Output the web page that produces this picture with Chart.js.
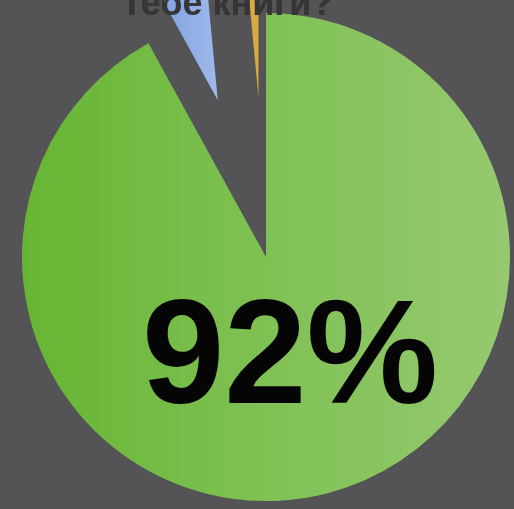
<!DOCTYPE html>
<html lang="ru">
  <head>
    <meta charset="utf-8" />
    <title>тебе книги?</title>
    <style>
      * {
        margin: 0;
        padding: 0;
      }
      html,
      body {
        width: 514px;
        height: 509px;
        overflow: hidden;
        background: #545356;
      }
      .chartBox {
        position: absolute;
        left: 0;
        top: -30px;
        width: 514px;
        height: 539px;
      }
    </style>
  </head>
  <body>
    <div class="chartBox">
      <canvas id="myChart" width="514" height="539"></canvas>
    </div>

    <script src="https://cdn.jsdelivr.net/npm/chart.js@4/dist/chart.umd.min.js"></script>

    <script>
      // data block
      const titleText = "тебе книги?";
      const categories = ["Да", "Нет", "Не знаю"];
      const values = [92, 6.5, 1.5];

      // green slice gets a soft left-to-right gradient like the original
      function sliceColor(context) {
        const { ctx, chartArea } = context.chart;
        if (!chartArea) return "#7dbf4e";
        if (context.dataIndex === 1) {
          const b = ctx.createLinearGradient(150, 0, 225, 0);
          b.addColorStop(0, "#7b9de0");
          b.addColorStop(1, "#a3bcec");
          return b;
        }
        if (context.dataIndex === 2) return "#d9a942";
        const g = ctx.createLinearGradient(20, 0, 510, 0);
        g.addColorStop(0, "#66b532");
        g.addColorStop(0.45, "#7dc051");
        g.addColorStop(1, "#96c970");
        return g;
      }

      // pull the small slices out along their own mid angle
      // (the built-in offset also trims the arc angle, which eats the thin slices)
      const explode = {
        id: "explode",
        afterUpdate(chart, args, options) {
          const arcs = chart.getDatasetMeta(0).data;
          options.distance.forEach((d, i) => {
            const a = arcs[i];
            if (!a || !d) return;
            const mid = (a.startAngle + a.endAngle) / 2;
            a.x += Math.cos(mid) * d;
            a.y += Math.sin(mid) * d;
          });
        },
      };

      // big percentage label on the green slice, title put back on top of the slices
      const bigLabel = {
        id: "bigLabel",
        afterDatasetsDraw(chart) {
          const arc = chart.getDatasetMeta(0).data[0];
          if (!arc) return;
          const { ctx } = chart;
          if (chart.titleBlock) chart.titleBlock.draw();
          ctx.save();
          ctx.font = "bold 148px 'Liberation Sans', Arial, sans-serif";
          ctx.textAlign = "center";
          ctx.textBaseline = "alphabetic";
          ctx.fillStyle = "#050505";
          ctx.fillText(`${chart.data.datasets[0].data[0]}%`, arc.x + 24, arc.y + 146);
          ctx.restore();
        },
      };

      const config = {
        type: "pie",
        data: {
          labels: categories,
          datasets: [
            {
              data: values,
              backgroundColor: sliceColor,
              borderWidth: 0,
              radius: 244,
              clip: false,
            },
          ],
        },
        options: {
          responsive: false,
          animation: false,
          layout: {
            padding: { left: 123, right: 105, top: 0, bottom: 21 },
          },
          plugins: {
            explode: { distance: [0, 164, 160] },
            legend: { display: false },
            tooltip: { enabled: false },
            title: {
              display: true,
              text: titleText,
              align: "start",
              color: "#363636",
              font: { family: "'Liberation Sans', Arial, sans-serif", size: 36, weight: "bold" },
              padding: { top: 13, bottom: 0 },
            },
          },
        },
        plugins: [explode, bigLabel],
      };

      const myChart = new Chart(document.getElementById("myChart"), config);
    </script>
  </body>
</html>
